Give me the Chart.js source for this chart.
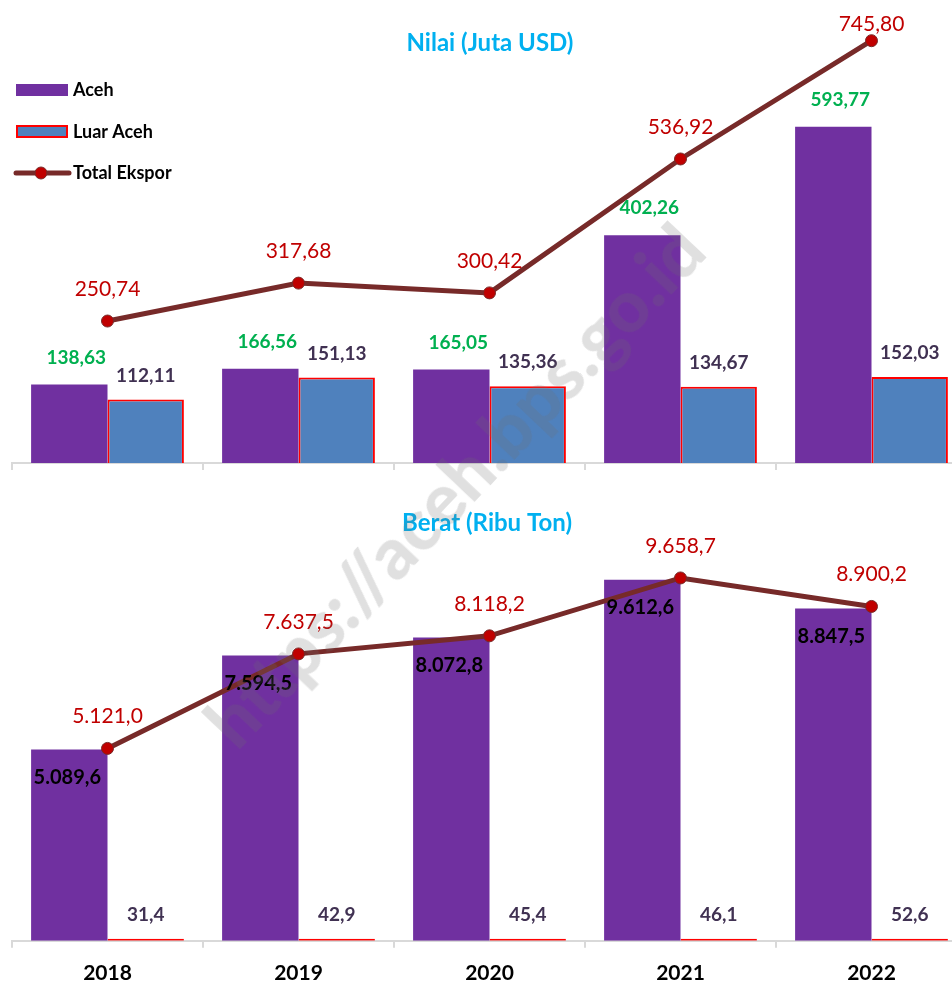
<!DOCTYPE html>
<html><head><meta charset="utf-8">
<script src="https://cdn.jsdelivr.net/npm/chart.js@4.4.1/dist/chart.umd.min.js"></script>
<style>
html,body{margin:0;padding:0;background:#fff;width:952px;height:982px;overflow:hidden;position:relative;font-family:Lato, sans-serif;}
canvas{position:absolute;left:0;}
#c1{top:0;}
#c2{top:475px;}
#wm{position:absolute;left:453px;top:484px;transform:translate(-50%,-50%) rotate(-46.5deg);font:900 72px Lato;color:rgba(110,110,110,0.21);white-space:nowrap;pointer-events:none;}
</style></head><body>
<canvas id="c1" width="980" height="475"></canvas>
<canvas id="c2" width="980" height="525"></canvas>
<div id="wm">https://aceh.bps.go.id</div>
<script>
const years = ['2018', '2019', '2020', '2021', '2022'];
const seriesNames = ['Aceh', 'Luar Aceh', 'Total Ekspor'];
const titleNilai = 'Nilai (Juta USD)';
const titleBerat = 'Berat (Ribu Ton)';
const nilaiAceh = [138.63, 166.56, 165.05, 402.26, 593.77];
const nilaiLuar = [112.11, 151.13, 135.36, 134.67, 152.03];
const nilaiTotal = [250.74, 317.68, 300.42, 536.92, 745.80];
const beratAceh = [5089.6, 7594.5, 8072.8, 9612.6, 8847.5];
const beratLuar = [31.4, 42.9, 45.4, 46.1, 52.6];
const beratTotal = [5121.0, 7637.5, 8118.2, 9658.7, 8900.2];

const PURPLE = '#7030a0', BLUE = '#4f81bd', RED = '#ff0000', LINE = '#772a29', DOT = '#c00000';

function fmt(v, dec) {
  const parts = v.toFixed(dec).split('.');
  parts[0] = parts[0].replace(/\B(?=(\d{3})+(?!\d))/g, '.');
  return parts.join(',');
}

function labelPlugin(cfg) {
  return {
    id: 'valueLabels',
    afterDatasetsDraw(chart) {
      const ctx = chart.ctx;
      ctx.save();
      ctx.textAlign = 'center';
      ctx.textBaseline = 'middle';
      cfg.forEach((c, di) => {
        const meta = chart.getDatasetMeta(di);
        const data = chart.data.datasets[di].data;
        ctx.font = c.font;
        ctx.fillStyle = c.color;
        meta.data.forEach((el, i) => {
          let y = el.y + c.dy;
          if (c.minY !== undefined) y = Math.max(y, c.minY);
          ctx.fillText(fmt(data[i], c.dec), el.x + (c.dx || 0), y);
        });
      });
      ctx.restore();
    }
  };
}

function titlePlugin(text, x, y) {
  return {
    id: 'panelTitle',
    afterDraw(chart) {
      const ctx = chart.ctx;
      ctx.save();
      ctx.font = 'bold 24px Lato';
      ctx.fillStyle = '#00b0f0';
      ctx.textAlign = 'center';
      ctx.textBaseline = 'middle';
      ctx.fillText(text, x, y);
      ctx.restore();
    }
  };
}

const legendPlugin = {
  id: 'customLegend',
  afterDraw(chart) {
    const ctx = chart.ctx;
    ctx.save();
    ctx.fillStyle = PURPLE;
    ctx.fillRect(16, 84, 52, 12);
    ctx.fillStyle = BLUE;
    ctx.fillRect(17, 126, 50, 11);
    ctx.strokeStyle = RED; ctx.lineWidth = 2;
    ctx.strokeRect(17, 126, 50, 11);
    ctx.strokeStyle = LINE; ctx.lineWidth = 5; ctx.lineCap = 'round';
    ctx.beginPath(); ctx.moveTo(16, 173); ctx.lineTo(69, 173); ctx.stroke();
    ctx.beginPath(); ctx.arc(41, 173, 6, 0, Math.PI * 2);
    ctx.fillStyle = DOT; ctx.fill();
    ctx.lineWidth = 1; ctx.strokeStyle = LINE; ctx.stroke();
    ctx.font = 'bold 18px Lato';
    ctx.fillStyle = '#000';
    ctx.textAlign = 'left'; ctx.textBaseline = 'middle';
    ctx.fillText(seriesNames[0], 73, 90);
    ctx.fillText(seriesNames[1], 73, 132);
    ctx.fillText(seriesNames[2], 73, 173);
    ctx.restore();
  }
};

function makeChart(canvasId, aceh, luar, total, yMax, showLabels, padding, luarSkip, plugins) {
  return new Chart(document.getElementById(canvasId), {
    data: {
      labels: years,
      datasets: [
        { type: 'bar', label: seriesNames[0], data: aceh, backgroundColor: PURPLE, borderWidth: 0,
          categoryPercentage: 0.8, barPercentage: 1.0, order: 2 },
        { type: 'bar', label: seriesNames[1], data: luar, backgroundColor: BLUE, borderColor: RED, borderWidth: 2,
          borderSkipped: luarSkip, minBarLength: 2,
          categoryPercentage: 0.8, barPercentage: 1.0, order: 2 },
        { type: 'line', label: seriesNames[2], data: total, borderColor: LINE, borderWidth: 5, tension: 0,
          pointRadius: 6, pointBackgroundColor: DOT, pointBorderColor: LINE, pointBorderWidth: 1, order: 0 }
      ]
    },
    options: {
      responsive: false,
      animation: false,
      layout: { padding: padding },
      plugins: { legend: { display: false }, tooltip: { enabled: false }, title: { display: false } },
      scales: {
        x: {
          offset: true,
          grid: { display: true, drawOnChartArea: false, drawTicks: true, tickLength: 7, color: '#d9d9d9', lineWidth: 2, offset: true },
          border: { display: true, color: '#d9d9d9', width: 2 },
          ticks: { display: showLabels, font: { family: 'Lato', weight: 'bold', size: 21 }, color: '#000', padding: 13 }
        },
        y: { display: false, min: 0, max: yMax }
      }
    },
    plugins: plugins
  });
}

function build() {
  makeChart('c1', nilaiAceh, nilaiLuar, nilaiTotal, 800, false,
    { top: 10, bottom: 5, left: 12, right: 13 }, 'start',
    [labelPlugin([
      { font: 'bold 19px Lato', color: '#00b050', dy: -27, dx: 7, dec: 2 },
      { font: 'bold 19px Lato', color: '#403152', dy: -24, dec: 2 },
      { font: '21px Lato', color: '#c00000', dy: -32, minY: 24, dec: 2 }
    ]), titlePlugin(titleNilai, 490, 43), legendPlugin]);
  makeChart('c2', beratAceh, beratLuar, beratTotal, 12000, true,
    { top: 15, bottom: 1, left: 12, right: 13 }, false,
    [labelPlugin([
      { font: 'bold 20px Lato', color: '#000', dy: 28, dx: -2, dec: 1 },
      { font: 'bold 19px Lato', color: '#403152', dy: -24, dec: 1 },
      { font: '21px Lato', color: '#c00000', dy: -32, dec: 1 }
    ]), titlePlugin(titleBerat, 487, 48)]);
}

Promise.all([
  document.fonts.load('bold 20px Lato'),
  document.fonts.load('20px Lato'),
  document.fonts.load('900 72px Lato')
]).then(build, build);
</script>
</body></html>
